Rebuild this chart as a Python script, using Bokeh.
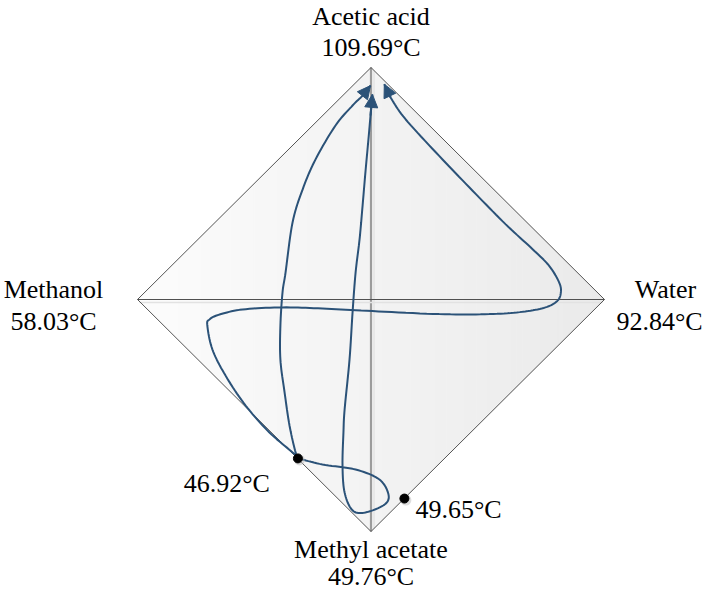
import numpy as np
from bokeh.plotting import figure
from bokeh.models import Range1d, Arrow, NormalHead
from bokeh.core.properties import value
from bokeh.embed import file_html
from bokeh.resources import INLINE

# ---------------- data (projection coordinates, diamond corners at +-100) -------------
vertex_names = ["Acetic acid", "Methanol", "Water", "Methyl acetate"]
vertex_temps = ["109.69°C", "58.03°C", "92.84°C", "49.76°C"]
vertex_x = [0, -100, 100, 0]
vertex_y = [100, 0, 0, -100]

azeo_temps = ["46.92°C", "49.65°C"]
azeo_x = [-31.3, 14.3]
azeo_y = [-68.5, -85.8]

curve_a_x = [-31.05, -33.6, -43.5, -53.7, -62.3, -67.9, -70.1, -69.2, -64.9, -55.0, -37.9,
             -20.8, 0.6, 29.2, 50.6, 64.9, 74.7, 79.8, 81.3, 80.6, 76.3, 69.2, 57.6, 43.5,
             29.2, 14.8, 8.4, 5.7]
curve_a_y = [-68.5, -65.9, -57.3, -45.7, -32.8, -21.6, -11.2, -8.6, -6.5, -4.3, -3.4,
             -3.9, -5.0, -6.3, -6.3, -5.3, -3.4, -0.6, 3.0, 7.3, 14.5, 21.7, 32.5, 46.9,
             61.9, 77.7, 87.1, 92.8]

curve_b_x = [-31.05, -32.3, -34.9, -37.0, -38.8, -38.8, -37.9, -36.6, -33.6, -29.3, -23.8,
             -15.2, -7.9, -3.6, -0.2]
curve_b_y = [-68.5, -65.9, -54.3, -40.1, -25.9, -11.2, 3.0, 11.6, 33.2, 47.4, 60.3,
             75.0, 83.6, 87.9, 92.2]

curve_c_x = [-31.05, -20.8, -6.6, 3.6, 7.5, 5.8, -2.4, -7.9, -11.3, -12.2, -11.8, -11.3,
             -9.2, -7.9, -6.6, -4.9, -3.6, -2.4, -1.1, -0.2, 0.6]
curve_c_y = [-68.5, -71.1, -73.3, -77.6, -84.1, -88.4, -91.8, -90.9, -83.2, -71.6, -57.3,
             -47.4, -25.9, -5.6, 11.6, 25.9, 40.5, 54.7, 69.0, 79.3, 88.4]

# ---------------- styling ----------------
FONT = value("Liberation Serif")
FSIZE = "26px"
CURVE = "#2b5278"
SX = 2.335   # px per unit (x)
SY = 2.32    # px per unit (y)


def smooth(xs, ys, n=10):
    """Catmull-Rom rendering of the traced points."""
    P = np.column_stack([xs, ys]).astype(float)
    P = np.vstack([P[0], P, P[-1]])
    out = []
    for i in range(1, len(P) - 2):
        p0, p1, p2, p3 = P[i - 1], P[i], P[i + 1], P[i + 2]
        for t in np.linspace(0, 1, n, endpoint=False):
            t2, t3 = t * t, t * t * t
            pt = 0.5 * ((2 * p1) + (-p0 + p2) * t + (2 * p0 - 5 * p1 + 4 * p2 - p3) * t2
                        + (-p0 + 3 * p1 - 3 * p2 + p3) * t3)
            out.append(pt)
    out.append(P[-2])
    out = np.array(out)
    return out[:, 0], out[:, 1]


p = figure(width=705, height=591, output_backend="svg", toolbar_location=None,
           x_axis_location=None, y_axis_location=None, min_border=0,
           x_range=Range1d((8 - 378.5) / SX, (713 - 378.5) / SX),
           y_range=Range1d((307 - 599) / SY, (307 - 8) / SY))
p.grid.visible = False
p.outline_line_color = None
p.background_fill_color = "white"

# gradient fill of the diamond
N = 80
edges = np.linspace(-100, 100, N + 1)
pxs, pys, cols = [], [], []
for i in range(N):
    x0, x1 = edges[i], edges[i + 1]
    h0, h1 = 100 - abs(x0), 100 - abs(x1)
    pxs.append([x0, x1, x1, x0])
    pys.append([-h0, -h1, h1, h0])
    t = (i + 0.5) / N
    g = int(round(252 - t * (252 - 234)))
    cols.append(f"#{g:02x}{g:02x}{g:02x}")
p.patches(pxs, pys, fill_color=cols, line_color=cols, line_width=1)

# back edge (Acetic acid - Methyl acetate)
p.line([vertex_x[0], vertex_x[3]], [vertex_y[0], vertex_y[3]], line_color="#9c9c9c", line_width=2.2)
p.line([vertex_x[0] + 3 / SX, vertex_x[3] + 3 / SX], [vertex_y[0] - 3 / SY, vertex_y[3] + 3 / SY],
       line_color="#dedede", line_width=1)
# front edge (Methanol - Water)
p.line([vertex_x[1] + 2 / SX, vertex_x[2] - 2 / SX], [vertex_y[1] - 3 / SY, vertex_y[2] - 3 / SY],
       line_color="#e2e2e2", line_width=1.5)
p.line([vertex_x[1], vertex_x[2]], [vertex_y[1], vertex_y[2]], line_color="#505050", line_width=1.2)
# outer edges
order = [0, 2, 3, 1, 0]
p.line([vertex_x[k] for k in order], [vertex_y[k] for k in order], line_color="#555555", line_width=1)

# residue curves with arrowheads
for cx, cy in [(curve_a_x, curve_a_y), (curve_b_x, curve_b_y), (curve_c_x, curve_c_y)]:
    sx, sy = smooth(cx, cy)
    p.line(sx, sy, line_color=CURVE, line_width=2)
    p.add_layout(Arrow(end=NormalHead(size=13, fill_color=CURVE, line_color=CURVE, line_width=1),
                       x_start=cx[-2], y_start=cy[-2], x_end=cx[-1], y_end=cy[-1],
                       line_color=CURVE, line_width=2))

# azeotrope points
p.scatter([x + 1.5 / SX for x in azeo_x], [y - 1.5 / SY for y in azeo_y], size=11,
          fill_color="#bbbbbb", fill_alpha=0.5, line_color=None)
p.scatter(azeo_x, azeo_y, size=9, fill_color="black", line_color="black")

# vertex labels
name_off = [(0, -51), (-84, -10), (61, -10), (0, 18)]
temp_off = [(0, -20), (-84, 22), (55, 22), (0, 45)]
for i in range(4):
    p.text([vertex_x[i]], [vertex_y[i]], text=[vertex_names[i]], x_offset=name_off[i][0],
           y_offset=name_off[i][1], text_align="center", text_baseline="alphabetic",
           text_font=FONT, text_font_size=FSIZE, text_color="black")
    p.text([vertex_x[i]], [vertex_y[i]], text=[vertex_temps[i]], x_offset=temp_off[i][0],
           y_offset=temp_off[i][1], text_align="center", text_baseline="alphabetic",
           text_font=FONT, text_font_size=FSIZE, text_color="black")

# azeotrope labels
p.text([azeo_x[0]], [azeo_y[0]], text=[azeo_temps[0]], x_offset=-28, y_offset=25,
       text_align="right", text_baseline="alphabetic", text_font=FONT, text_font_size=FSIZE)
p.text([azeo_x[1]], [azeo_y[1]], text=[azeo_temps[1]], x_offset=11, y_offset=11,
       text_align="left", text_baseline="alphabetic", text_font=FONT, text_font_size=FSIZE)

open("out.html", "w").write(file_html(p, INLINE))
